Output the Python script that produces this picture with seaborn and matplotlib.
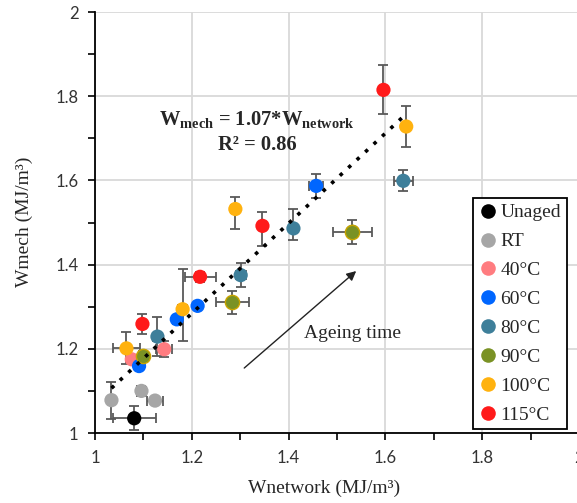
import matplotlib
matplotlib.use("Agg")
import matplotlib.pyplot as plt
import numpy as np
import pandas as pd
import seaborn as sns

# === DATA ===
groups = ["Unaged",
          "RT", "RT", "RT",
          "40°C", "40°C",
          "60°C", "60°C", "60°C", "60°C",
          "80°C", "80°C", "80°C", "80°C",
          "90°C", "90°C", "90°C",
          "100°C", "100°C", "100°C", "100°C",
          "115°C", "115°C", "115°C", "115°C"]
w_network = [1.081,
             1.034, 1.096, 1.124,
             1.076, 1.143,
             1.091, 1.169, 1.212, 1.457,
             1.129, 1.301, 1.410, 1.637,
             1.100, 1.284, 1.532,
             1.065, 1.181, 1.290, 1.643,
             1.098, 1.217, 1.346, 1.596]
w_mech = [1.035,
          1.078, 1.100, 1.077,
          1.175, 1.199,
          1.159, 1.270, 1.302, 1.587,
          1.229, 1.375, 1.486, 1.599,
          1.183, 1.310, 1.478,
          1.201, 1.294, 1.532, 1.728,
          1.259, 1.371, 1.492, 1.815]
xerr = [0.044,
        0.005, 0.010, 0.017,
        0.008, 0.016,
        0.005, 0.005, 0.008, 0.015,
        0.010, 0.010, 0.005, 0.020,
        0.010, 0.034, 0.040,
        0.028, 0.010, 0.008, 0.005,
        0.005, 0.032, 0.005, 0.005]
yerr_lo = [0.029,
           0.044, 0.012, 0.005,
           0.010, 0.019,
           0.008, 0.010, 0.008, 0.028,
           0.046, 0.028, 0.028, 0.025,
           0.012, 0.028, 0.028,
           0.038, 0.076, 0.048, 0.049,
           0.024, 0.012, 0.048, 0.058]
yerr_hi = [0.029,
           0.044, 0.012, 0.005,
           0.010, 0.019,
           0.008, 0.010, 0.008, 0.028,
           0.046, 0.028, 0.045, 0.025,
           0.012, 0.028, 0.028,
           0.038, 0.095, 0.029, 0.049,
           0.024, 0.012, 0.032, 0.058]

labels = ["Unaged", "RT", "40°C", "60°C", "80°C", "90°C", "100°C", "115°C"]
colors = ["#000000", "#A6A6A6", "#FF7C80", "#0066FF", "#3E7F9A", "#7A9225", "#FFB20F", "#FF1A1A"]
slope = 1.07
r2 = 0.86

df = pd.DataFrame({"group": groups, "x": w_network, "y": w_mech,
                   "xerr": xerr, "ylo": yerr_lo, "yhi": yerr_hi})

sns.set_style("white")
plt.rcParams["mathtext.fontset"] = "custom"
plt.rcParams["mathtext.rm"] = "Liberation Serif"
plt.rcParams["mathtext.bf"] = "Liberation Serif:bold"

fig = plt.figure(figsize=(5.77, 5.03), dpi=100)
ax = fig.add_axes([95 / 577, 70 / 503, 484 / 577, 421 / 503])

# error bars first (behind markers)
ax.errorbar(df["x"], df["y"], xerr=df["xerr"], yerr=[df["ylo"], df["yhi"]],
            fmt="none", ecolor="#595959", elinewidth=1.3, capsize=3.8, capthick=1.3, zorder=2)

# trend line through origin
xs = np.linspace(min(w_network), max(w_network), 50)
ax.plot(xs, slope * xs, linestyle=(0, (1, 2.2)), color="black", linewidth=2.6, zorder=4)

sns.scatterplot(data=df, x="x", y="y", hue="group", hue_order=labels,
                palette=dict(zip(labels, colors)), s=105, edgecolor="none",
                ax=ax, zorder=3, legend=False)
# olive markers have a yellowish rim
olive = df[df["group"] == "90°C"]
ax.scatter(olive["x"], olive["y"], s=105, facecolor=colors[5], edgecolor="#C9A400",
           linewidth=1, zorder=3)

ax.set_xlim(1, 2)
ax.set_ylim(1, 2)
ax.set_xticks(np.arange(1, 2.01, 0.2))
ax.set_yticks(np.arange(1, 2.01, 0.2))
ax.set_xticks(np.arange(1.1, 2.0, 0.2), minor=True)
ax.set_yticks(np.arange(1.1, 2.0, 0.2), minor=True)
ax.set_xticklabels(["1", "1.2", "1.4", "1.6", "1.8", "2"])
ax.set_yticklabels(["1", "1.2", "1.4", "1.6", "1.8", "2"])
ax.tick_params(which="both", direction="out", length=5, width=1.2, color="black",
               bottom=True, left=True)
ax.tick_params(which="major", labelsize=12, pad=7, labelcolor="#333333")
for lab in ax.get_xticklabels() + ax.get_yticklabels():
    lab.set_family("Lato")
ax.grid(True, which="major", color="#D9D9D9", linewidth=1.3)
ax.set_axisbelow(True)
for side in ["top", "right"]:
    ax.spines[side].set_visible(False)
for side in ["left", "bottom"]:
    ax.spines[side].set_color("black")
    ax.spines[side].set_linewidth(1.3)

ax.set_xlabel("Wnetwork (MJ/m³)", family="Liberation Serif", fontsize=14)
ax.set_ylabel("Wmech (MJ/m³)", family="Liberation Serif", fontsize=14)
ax.xaxis.set_label_coords((324 - 95) / 484, -47 / 421)
ax.yaxis.set_label_coords(-62 / 484, 0.502)

ax.text(1.335, 1.742, r"$\mathbf{W}_{\mathbf{mech}}$ = " + f"{slope:.2f}*" + r"$\mathbf{W}_{\mathbf{network}}$",
        ha="center", va="center", family="Liberation Serif", fontweight="bold", fontsize=14.8)
ax.text(1.335, 1.684, f"R² = {r2:.2f}", ha="center", va="center",
        family="Liberation Serif", fontweight="bold", fontsize=14.8)

ax.annotate("", xy=(1.544, 1.389), xytext=(1.304, 1.150),
            arrowprops=dict(arrowstyle="-|>", color="#222222", lw=1.0, mutation_scale=14))
ax.text(1.531, 1.2375, "Ageing time", ha="center", va="center",
        family="Liberation Serif", fontsize=14)

handles = [plt.Line2D([], [], marker="o", linestyle="none", markersize=10.5,
                      markerfacecolor=c, markeredgecolor="none") for c in colors]
leg = fig.legend(handles, labels, loc="upper left", bbox_to_anchor=(473 / 577, 1 - 198 / 503),
                 frameon=True, fancybox=False, framealpha=1, edgecolor="black",
                 prop={"family": "Liberation Serif", "size": 14},
                 handletextpad=0.15, handlelength=0.95, labelspacing=0.58,
                 borderpad=0.3, borderaxespad=0)
leg.get_frame().set_linewidth(1.3)

fig.savefig("out.png", dpi=100, facecolor="white")
